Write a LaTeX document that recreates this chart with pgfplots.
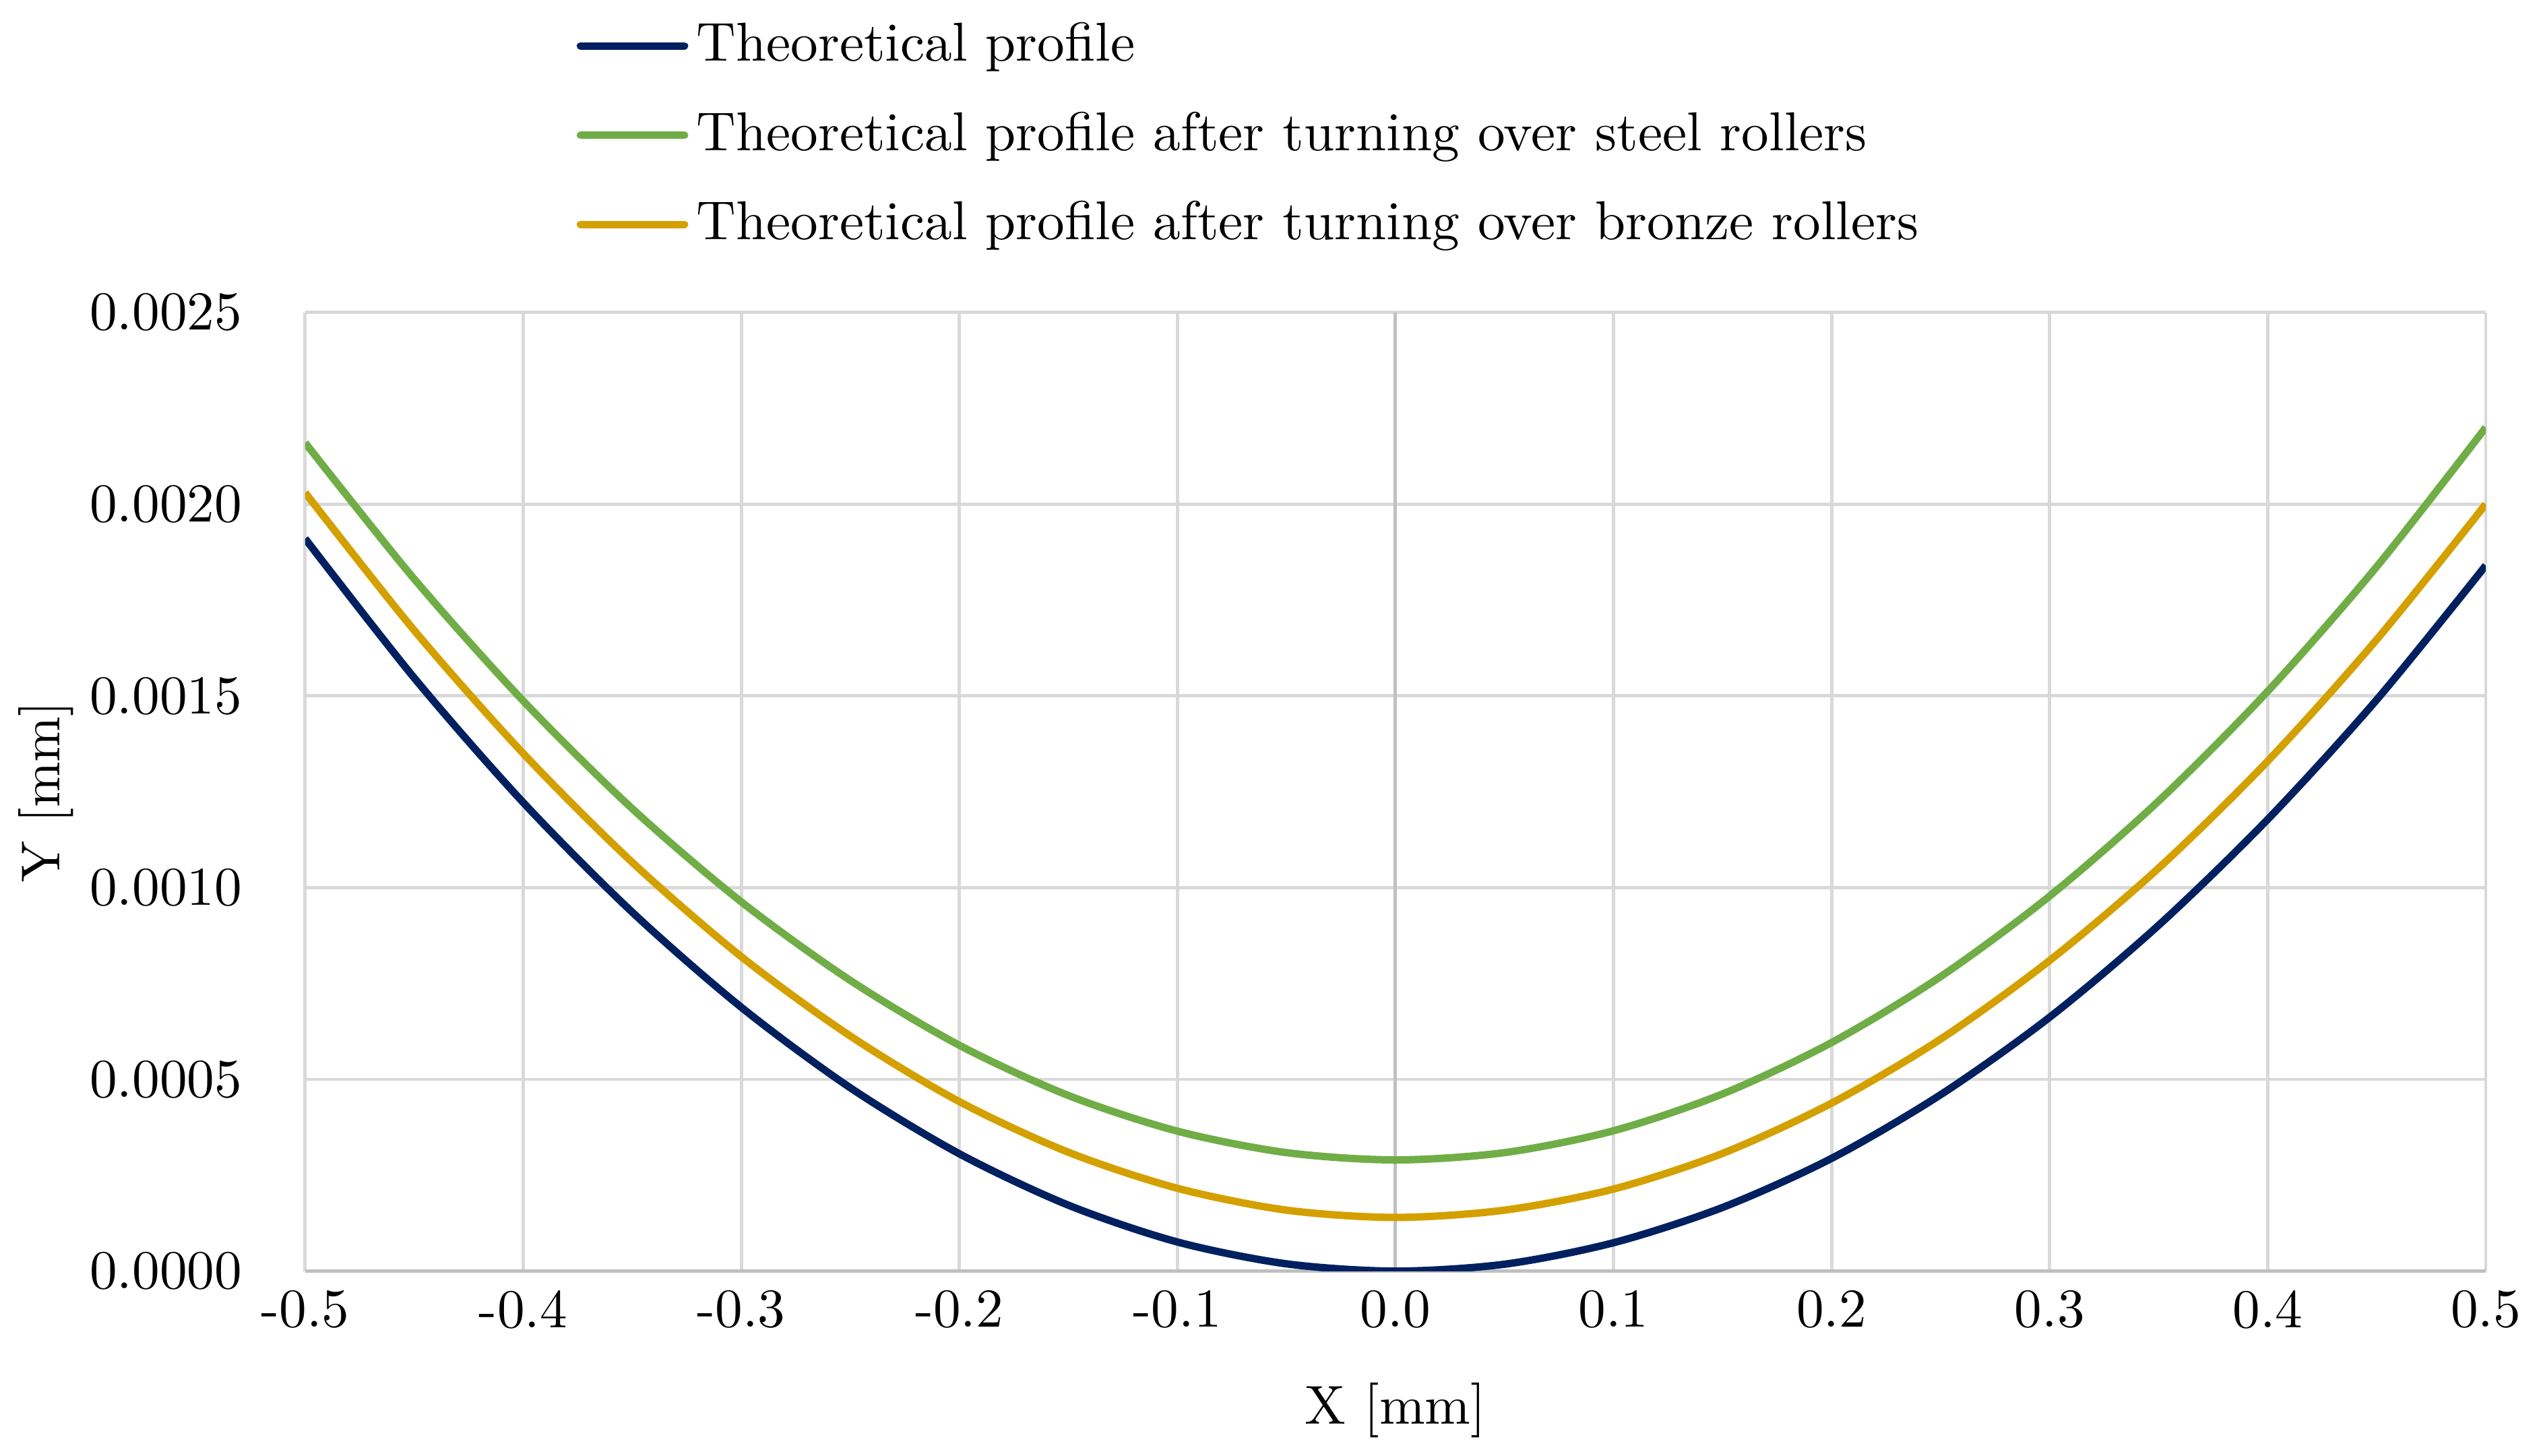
\documentclass[border=0pt]{standalone}
\usepackage{pgfplots}
\pgfplotsset{compat=1.18}

\definecolor{profblue}{HTML}{002060}
\definecolor{profgreen}{HTML}{70AD47}
\definecolor{profgold}{HTML}{D4A000}
\definecolor{gridgray}{HTML}{D9D9D9}
\definecolor{axisgray}{HTML}{BFBFBF}

\pgfplotstableread{
x y
-0.50 0.001910
-0.45 0.001547
-0.40 0.001222
-0.35 0.000936
-0.30 0.000688
-0.25 0.000478
-0.20 0.000306
-0.15 0.000172
-0.10 0.000076
-0.05 0.000019
0.00 0.000000
0.05 0.000018
0.10 0.000074
0.15 0.000166
0.20 0.000294
0.25 0.000460
0.30 0.000662
0.35 0.000902
0.40 0.001178
0.45 0.001490
0.50 0.001840
}\theoretical

\pgfplotstableread{
x y
-0.50 0.002160
-0.45 0.001805
-0.40 0.001487
-0.35 0.001206
-0.30 0.000963
-0.25 0.000758
-0.20 0.000589
-0.15 0.000458
-0.10 0.000365
-0.05 0.000309
0.00 0.000290
0.05 0.000309
0.10 0.000366
0.15 0.000462
0.20 0.000596
0.25 0.000768
0.30 0.000978
0.35 0.001226
0.40 0.001512
0.45 0.001837
0.50 0.002200
}\steel

\pgfplotstableread{
x y
-0.50 0.002030
-0.45 0.001671
-0.40 0.001350
-0.35 0.001066
-0.30 0.000820
-0.25 0.000613
-0.20 0.000442
-0.15 0.000310
-0.10 0.000216
-0.05 0.000159
0.00 0.000140
0.05 0.000159
0.10 0.000214
0.15 0.000307
0.20 0.000438
0.25 0.000605
0.30 0.000810
0.35 0.001051
0.40 0.001330
0.45 0.001647
0.50 0.002000
}\bronze

\begin{document}
\begin{tikzpicture}
\begin{axis}[
  scale only axis,
  width=398pt, height=175pt,
  xmin=-0.5, xmax=0.5,
  ymin=0, ymax=0.0025,
  xtick={-0.5,-0.4,-0.3,-0.2,-0.1,0,0.1,0.2,0.3,0.4,0.5},
  xticklabels={-0.5,-0.4,-0.3,-0.2,-0.1,0.0,0.1,0.2,0.3,0.4,0.5},
  ytick={0,0.0005,0.001,0.0015,0.002,0.0025},
  yticklabels={0.0000,0.0005,0.0010,0.0015,0.0020,0.0025},
  scaled y ticks=false,
  yticklabel style={xshift=-8pt},
  major tick length=0pt,
  axis line style={draw=none},
  grid=major,
  grid style={gridgray, line width=0.6pt},
  extra x ticks={0}, extra x tick labels={},
  extra y ticks={0}, extra y tick labels={},
  extra tick style={grid style={axisgray, line width=0.6pt}},
  xlabel={X [mm]},
  ylabel={Y [mm]},
  xlabel style={at={(axis description cs:0.5,-0.145)}, anchor=center},
  ylabel style={at={(axis description cs:-0.119,0.5)}, anchor=center},
  legend cell align=left,
  legend image code/.code={\draw[#1, line cap=round] (0pt,0pt) -- (19pt,0pt);},
  legend style={draw=none, fill=none, at={(axis description cs:0.1165,1.327)},
    anchor=north west, inner ysep=2.1pt, row sep=3.75pt, nodes={inner xsep=1.5pt}},
]
\addplot[profblue, line width=1.35pt, smooth] table {\theoretical};
\addlegendentry{Theoretical profile}
\addplot[profgreen, line width=1.35pt, smooth] table {\steel};
\addlegendentry{Theoretical profile after turning over steel rollers}
\addplot[profgold, line width=1.35pt, smooth] table {\bronze};
\addlegendentry{Theoretical profile after turning over bronze rollers}
\end{axis}
\end{tikzpicture}
\end{document}
